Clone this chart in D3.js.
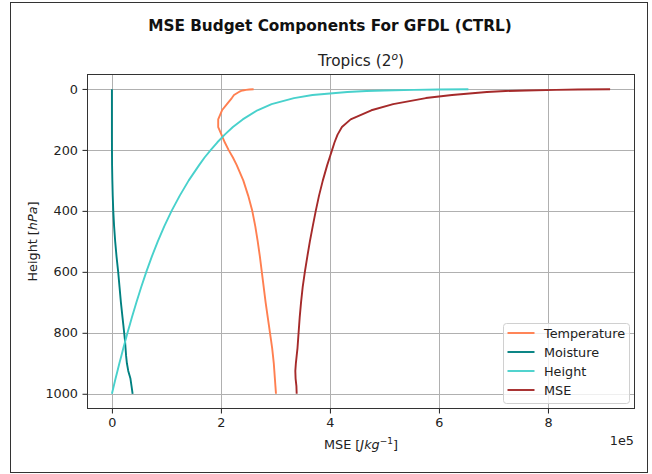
<!DOCTYPE html>
<html>
<head>
<meta charset="utf-8">
<script src="https://cdn.jsdelivr.net/npm/d3@7"></script>
<style>
  html, body { margin: 0; padding: 0; background: #fff; }
  svg { display: block; font-family: "DejaVu Sans", sans-serif; }
</style>
</head>
<body>
<svg id="chart" width="652" height="474"></svg>
<script>
// Pressure levels (hPa), top of atmosphere to surface
const levels = [1, 2, 3, 5, 7, 10, 20, 30, 50, 70, 100, 125, 150, 175, 200, 225, 250,
  300, 350, 400, 450, 500, 550, 600, 650, 700, 750, 775, 800, 825, 850, 875, 900,
  925, 950, 975, 1000];

// Budget components in units of 1e5 J/kg
const temperature = [2.60, 2.52, 2.46, 2.40, 2.36, 2.33, 2.24, 2.20, 2.11, 2.02, 1.95,
  1.95, 2.01, 2.07, 2.14, 2.22, 2.29, 2.41, 2.50, 2.575, 2.63, 2.675, 2.715, 2.75, 2.785,
  2.82, 2.86, 2.88, 2.90, 2.92, 2.94, 2.955, 2.97, 2.98, 2.99, 3.00, 3.01];

const moisture = [0.0, 0.0, 0.0, 0.0, 0.0, 0.0, 0.0, 0.0, 0.0, 0.0, 0.0, 0.0, 0.0,
  0.0005, 0.001, 0.002, 0.003, 0.008, 0.015, 0.025, 0.04, 0.06, 0.085, 0.115, 0.14,
  0.165, 0.195, 0.21, 0.225, 0.24, 0.25, 0.26, 0.275, 0.30, 0.34, 0.36, 0.38];

const height = [6.54, 5.99, 5.54, 5.00, 4.67, 4.32, 3.68, 3.34, 2.93, 2.67, 2.40,
  2.22, 2.07, 1.935, 1.815, 1.70, 1.60, 1.41, 1.245, 1.095, 0.962, 0.842, 0.732, 0.631,
  0.538, 0.450, 0.366, 0.326, 0.286, 0.248, 0.210, 0.174, 0.137, 0.102, 0.067, 0.033, 0.0];

const mse = [9.14, 8.55, 8.15, 7.60, 7.22, 6.88, 6.24, 5.76, 5.16, 4.76, 4.38, 4.22,
  4.14, 4.085, 4.04, 3.995, 3.95, 3.87, 3.80, 3.74, 3.685, 3.632, 3.585, 3.54, 3.50,
  3.47, 3.445, 3.435, 3.425, 3.415, 3.405, 3.39, 3.375, 3.365, 3.37, 3.385, 3.39];

const seriesNames = ["Temperature", "Moisture", "Height", "MSE"];
const seriesColors = ["#FF7F50", "#008080", "#48D1CC", "#A52A2A"];
const seriesValues = [temperature, moisture, height, mse];

const xTicks = [0, 2, 4, 6, 8];
const yTicks = [0, 200, 400, 600, 800, 1000];

const svg = d3.select("#chart");
const W = 652, H = 474;
const plot = { left: 87, right: 635, top: 74, bottom: 409 };
const fs = 12.8;

// Figure frame
svg.append("rect").attr("x", 0).attr("y", 0).attr("width", W).attr("height", H).attr("fill", "#fff");
svg.append("rect").attr("x", 10.5).attr("y", 2.5).attr("width", 637).attr("height", 470)
  .attr("fill", "none").attr("stroke", "#333").attr("stroke-width", 1);

// Data extents with 5% padding on each side
const allX = seriesValues.flat();
const xMin = d3.min(allX), xMax = d3.max(allX);
const xPad = (xMax - xMin) * 0.05;
const pMin = d3.min(levels), pMax = d3.max(levels);
const pPad = (pMax - pMin) * 0.05;

const x = d3.scaleLinear().domain([xMin - xPad, xMax + xPad]).range([plot.left, plot.right]);
const y = d3.scaleLinear().domain([pMin - pPad, pMax + pPad]).range([plot.top, plot.bottom]);

// Grid
const grid = svg.append("g").attr("stroke", "#b0b0b0").attr("stroke-width", 1);
xTicks.forEach(t => {
  const px = Math.round(x(t)) + 0.5;
  grid.append("line").attr("x1", px).attr("x2", px).attr("y1", plot.top).attr("y2", plot.bottom);
});
yTicks.forEach(t => {
  const py = Math.round(y(t)) + 0.5;
  grid.append("line").attr("x1", plot.left).attr("x2", plot.right).attr("y1", py).attr("y2", py);
});

// Profiles
const clipId = "plotclip";
svg.append("clipPath").attr("id", clipId).append("rect")
  .attr("x", plot.left).attr("y", plot.top)
  .attr("width", plot.right - plot.left).attr("height", plot.bottom - plot.top);

const line = d3.line().x(d => x(d[0])).y(d => y(d[1]));
const linesG = svg.append("g").attr("clip-path", `url(#${clipId})`);
seriesValues.forEach((vals, i) => {
  const pts = vals.map((v, j) => [v, levels[j]]);
  linesG.append("path").datum(pts)
    .attr("d", line)
    .attr("fill", "none")
    .attr("stroke", seriesColors[i])
    .attr("stroke-width", 1.9)
    .attr("stroke-linejoin", "round")
    .attr("stroke-linecap", "butt");
});

// Axes
const xAxis = d3.axisBottom(x).tickValues(xTicks).tickFormat(d3.format("d")).tickSize(4.5).tickPadding(4.5);
const yAxis = d3.axisLeft(y).tickValues(yTicks).tickFormat(d3.format("d")).tickSize(4.5).tickPadding(4.5);

const gx = svg.append("g").attr("transform", `translate(0,${plot.bottom})`).call(xAxis);
const gy = svg.append("g").attr("transform", `translate(${plot.left},0)`).call(yAxis);
[gx, gy].forEach(g => {
  g.select(".domain").remove();
  g.selectAll(".tick line").attr("stroke", "#222").attr("stroke-width", 1);
  g.selectAll(".tick text").attr("fill", "#222").style("font-size", fs + "px")
    .style("font-family", "DejaVu Sans, sans-serif");
});

// Spines
svg.append("rect")
  .attr("x", plot.left + 0.5).attr("y", plot.top + 0.5)
  .attr("width", plot.right - plot.left - 1).attr("height", plot.bottom - plot.top - 1)
  .attr("fill", "none").attr("stroke", "#333").attr("stroke-width", 1);

// Titles
svg.append("text").attr("x", 330).attr("y", 31).attr("text-anchor", "middle")
  .style("font-size", "15.3px").style("font-weight", "bold").attr("fill", "#111")
  .text("MSE Budget Components For GFDL (CTRL)");

const sub = svg.append("text").attr("x", (plot.left + plot.right) / 2).attr("y", 66)
  .attr("text-anchor", "middle").style("font-size", "15.3px").attr("fill", "#222");
sub.append("tspan").text("Tropics (2");
sub.append("tspan").attr("dy", -6).style("font-size", "10.7px").style("font-style", "italic").text("o");
sub.append("tspan").attr("dy", 6).text(")");

// Axis labels
const xl = svg.append("text").attr("x", (plot.left + plot.right) / 2).attr("y", 449)
  .attr("text-anchor", "middle").style("font-size", fs + "px").attr("fill", "#222");
xl.append("tspan").text("MSE [");
xl.append("tspan").style("font-style", "italic").text("Jkg");
xl.append("tspan").attr("dy", -5.5).style("font-size", "9px").text("−1");
xl.append("tspan").attr("dy", 5.5).text("]");

const yl = svg.append("text")
  .attr("transform", `translate(37,${(plot.top + plot.bottom) / 2}) rotate(-90)`)
  .attr("text-anchor", "middle").style("font-size", fs + "px").attr("fill", "#222");
yl.append("tspan").text("Height [");
yl.append("tspan").style("font-style", "italic").text("hPa");
yl.append("tspan").text("]");

// Offset label for the x axis
svg.append("text").attr("x", plot.right - 1).attr("y", 445).attr("text-anchor", "end")
  .style("font-size", fs + "px").attr("fill", "#222").text("1e5");

// Legend
const lg = svg.append("g").attr("transform", "translate(503.5,323.5)");
lg.append("rect").attr("width", 126).attr("height", 80).attr("rx", 3)
  .attr("fill", "#fff").attr("fill-opacity", 0.8).attr("stroke", "#d0d0d0").attr("stroke-width", 1);
seriesNames.forEach((name, i) => {
  const cy = 9.5 + i * 19;
  lg.append("line").attr("x1", 4).attr("x2", 31).attr("y1", cy).attr("y2", cy)
    .attr("stroke", seriesColors[i]).attr("stroke-width", 1.9);
  lg.append("text").attr("x", 40.5).attr("y", cy + 4.6).style("font-size", fs + "px")
    .attr("fill", "#222").text(name);
});
</script>
</body>
</html>
